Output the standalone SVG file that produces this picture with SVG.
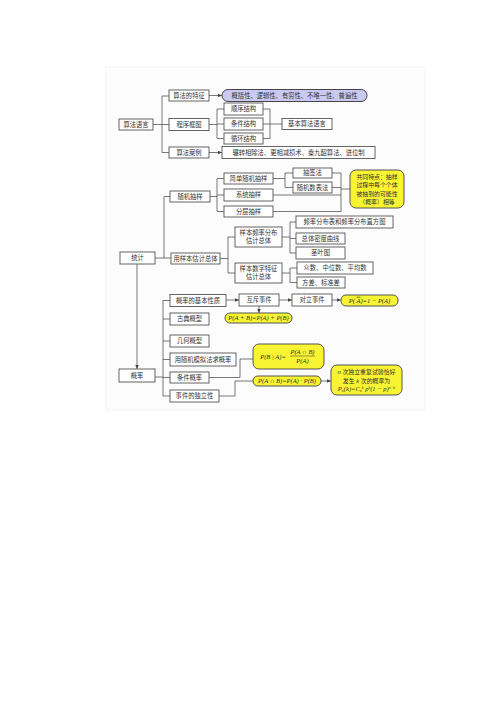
<svg xmlns="http://www.w3.org/2000/svg" width="500" height="707" viewBox="0 0 500 707">
<style>
.b{fill:#fff;stroke:#555;stroke-width:0.9}
.y{fill:#f9f431;stroke:#555;stroke-width:1}
.p{fill:#c9c9f2;stroke:#444;stroke-width:1}
.t{font-family:"Liberation Sans","Noto Sans CJK SC",sans-serif;font-size:6.3px;fill:#333;text-anchor:middle}
.s{font-size:5.9px}
.f{font-family:"Liberation Serif","Noto Sans CJK SC",serif;font-size:6.5px;fill:#333;text-anchor:middle;font-style:italic}
.c{fill:none;stroke:#555;stroke-width:0.8}
</style>
<defs>
<marker id="ar" markerWidth="5" markerHeight="5" refX="4.5" refY="2.5" orient="auto" markerUnits="userSpaceOnUse">
<path d="M0,0.5 L4.5,2.5 L0,4.5 Z" fill="#444"/>
</marker>
</defs>
<rect x="106" y="67" width="319" height="343" fill="#fcfcfc" stroke="#f4f4f4" stroke-width="1"/>
<g id="connectors">
<path class="c" d="M153,124.5H162M162,96V152.5M162,96H169M162,124.5H169M162,152.5H169"/>
<path class="c" d="M209,95.5H222" marker-end="url(#ar)"/>
<path class="c" d="M209,152.5H222" marker-end="url(#ar)"/>
<path class="c" d="M209,124.5H217M217,109V138.5M217,109H224M217,124H224M217,138.5H224"/>
<path class="c" d="M263,109H270M263,124H270M263,138.5H270M270,109V138.5M270,124H282"/>
<path class="c" d="M155,258H164M164,196.5V258M164,196.5H170M164,258H171"/>
<path class="c" d="M210,196.5H217M217,178.5V211.5M217,178.5H224M217,195H224M217,211.5H224"/>
<path class="c" d="M273,178.5H285M285,173V187.5M285,173H293M285,187.5H293"/>
<path class="c" d="M332,173H341M332,187.5H341M273,195H341M273,211.5H341M341,173V211.5M341,189H350"/>
<path class="c" d="M220,258.5H228M228,237V273M228,237H235M228,273H235"/>
<path class="c" d="M282,237H290M290,222V253M290,222H296M290,238.5H296M290,253H296"/>
<path class="c" d="M282,273H290M290,268V282.5M290,268H297M290,282.5H297"/>
<path class="c" d="M137,264V369" marker-end="url(#ar)"/>
<path class="c" d="M155,377H163M163,300.5V396M163,300.5H170M163,319H170M163,341H170M163,359.5H170M163,377.5H170M163,396H170"/>
<path class="c" d="M226,300H239" marker-end="url(#ar)"/>
<path class="c" d="M279,300H292" marker-end="url(#ar)"/>
<path class="c" d="M332,300H341" marker-end="url(#ar)"/>
<path class="c" d="M259,306V313" marker-end="url(#ar)"/>
<path class="c" d="M209,377.5H240V359H253"/>
<path class="c" d="M219,396H235V381H253"/>
<path class="c" d="M321,381H331" marker-end="url(#ar)"/>
</g>
<g id="n-suanfayuyan"><rect class="b" x="119" y="119" width="34" height="11"/><text class="t" x="136" y="126.8">算法语言</text></g>
<g id="n-tezheng"><rect class="b" x="169" y="90" width="40" height="11"/><text class="t" x="189" y="97.8">算法的特征</text></g>
<g id="n-kuangtu"><rect class="b" x="169" y="118.5" width="40" height="12"/><text class="t" x="189" y="126.8">程序框图</text></g>
<g id="n-anli"><rect class="b" x="169" y="147" width="40" height="11"/><text class="t" x="189" y="154.8">算法案例</text></g>
<g id="n-tezheng-list"><rect class="p" x="222" y="89.5" width="145" height="12" rx="6"/><text class="t" x="294.5" y="97.8">概括性、逻辑性、有穷性、不唯一性、普遍性</text></g>
<g id="n-shunxu"><rect class="b" x="224" y="103" width="39" height="12"/><text class="t" x="243.5" y="111.3">顺序结构</text></g>
<g id="n-tiaojian"><rect class="b" x="224" y="118" width="39" height="12"/><text class="t" x="243.5" y="126.3">条件结构</text></g>
<g id="n-xunhuan"><rect class="b" x="224" y="133" width="39" height="11"/><text class="t" x="243.5" y="140.8">循环结构</text></g>
<g id="n-jiben"><rect class="b" x="282" y="118.5" width="50" height="11"/><text class="t" x="307" y="126.3">基本算法语言</text></g>
<g id="n-anli-list"><rect class="b" x="222" y="146.5" width="153" height="12"/><text class="t" x="298.5" y="154.8">辗转相除法、更相减损术、秦九韶算法、进位制</text></g>
<g id="n-tongji"><rect class="b" x="120" y="252" width="35" height="12"/><text class="t" x="137.5" y="260.3">统计</text></g>
<g id="n-suiji"><rect class="b" x="170" y="191" width="40" height="11"/><text class="t" x="190" y="198.8">随机抽样</text></g>
<g id="n-guji"><rect class="b" x="171" y="253" width="49" height="11"/><text class="t" x="195.5" y="260.8">用样本估计总体</text></g>
<g id="n-jiandan"><rect class="b" x="224" y="173" width="49" height="11"/><text class="t" x="248.5" y="180.8">简单随机抽样</text></g>
<g id="n-xitong"><rect class="b" x="224" y="189" width="49" height="12"/><text class="t" x="248.5" y="197.3">系统抽样</text></g>
<g id="n-fenceng"><rect class="b" x="224" y="206" width="49" height="11"/><text class="t" x="248.5" y="213.8">分层抽样</text></g>
<g id="n-chouqian"><rect class="b" x="293" y="168" width="39" height="10"/><text class="t" x="312.5" y="175.3">抽签法</text></g>
<g id="n-suijishu"><rect class="b" x="293" y="182" width="39" height="11"/><text class="t" x="312.5" y="189.8">随机数表法</text></g>
<g id="n-gongtong"><rect class="y" x="350" y="170" width="54" height="38" rx="6"/>
<text class="t s" x="377" y="179">共同特点：抽样</text><text class="t s" x="377" y="187.3">过程中每个个体</text><text class="t s" x="377" y="195.6">被抽到的可能性</text><text class="t s" x="377" y="203.9">（概率）相等</text></g>
<g id="n-pinlv"><rect class="b" x="235" y="227" width="47" height="20"/><text class="t" x="258.5" y="235">样本频率分布</text><text class="t" x="258.5" y="243">估计总体</text></g>
<g id="n-shuzi"><rect class="b" x="235" y="263" width="47" height="20"/><text class="t" x="258.5" y="271">样本数字特征</text><text class="t" x="258.5" y="279">估计总体</text></g>
<g id="n-zhifang"><rect class="b" x="296" y="216" width="97" height="12"/><text class="t" x="344.5" y="224.3">频率分布表和频率分布直方图</text></g>
<g id="n-midu"><rect class="b" x="296" y="233" width="49" height="11"/><text class="t" x="320.5" y="240.8">总体密度曲线</text></g>
<g id="n-jingye"><rect class="b" x="296" y="247" width="49" height="12"/><text class="t" x="320.5" y="255.3">茎叶图</text></g>
<g id="n-zhongshu"><rect class="b" x="297" y="262" width="76" height="12"/><text class="t" x="335" y="270.3">众数、中位数、平均数</text></g>
<g id="n-fangcha"><rect class="b" x="297" y="277" width="48" height="11"/><text class="t" x="321" y="284.8">方差、标准差</text></g>
<g id="n-gailv"><rect class="b" x="119" y="369" width="36" height="13"/><text class="t" x="137" y="377.8">概率</text></g>
<g id="n-xingzhi"><rect class="b" x="170" y="294.5" width="56" height="12"/><text class="t" x="198" y="302.8">概率的基本性质</text></g>
<g id="n-gudian"><rect class="b" x="170" y="313" width="39" height="12"/><text class="t" x="189.5" y="321.3">古典概型</text></g>
<g id="n-jihe"><rect class="b" x="170" y="335" width="39" height="12"/><text class="t" x="189.5" y="343.3">几何概型</text></g>
<g id="n-moni"><rect class="b" x="170" y="353" width="66" height="13"/><text class="t" x="203" y="361.8">用随机模拟法求概率</text></g>
<g id="n-tiaojiangailv"><rect class="b" x="170" y="372" width="39" height="11"/><text class="t" x="189.5" y="379.8">条件概率</text></g>
<g id="n-duli"><rect class="b" x="170" y="390" width="49" height="12"/><text class="t" x="194.5" y="398.3">事件的独立性</text></g>
<g id="n-huchi"><rect class="b" x="239" y="294" width="40" height="12"/><text class="t" x="259" y="302.3">互斥事件</text></g>
<g id="n-duili"><rect class="b" x="292" y="294" width="40" height="12"/><text class="t" x="312" y="302.3">对立事件</text></g>
<g id="n-f-duili"><rect class="y" x="341" y="295" width="57" height="11" rx="5"/><text class="f" x="369.5" y="302.8">P( <tspan text-decoration="overline">A</tspan>)=1 − P(A)</text></g>
<g id="n-f-huchi"><rect class="y" x="225" y="313" width="67" height="10" rx="5"/><text class="f" x="258.5" y="320.3">P(A + B)=P(A) + P(B)</text></g>
<g id="n-f-tiaojian"><rect class="y" x="253" y="344" width="71" height="25" rx="6"/>
<text class="f" x="273" y="358.5">P(B | A)=</text>
<text class="f" x="302.5" y="354">P(A ∩ B)</text>
<line x1="290" y1="356" x2="315" y2="356" stroke="#333" stroke-width="0.5"/>
<text class="f" x="302.5" y="362.5">P(A)</text></g>
<g id="n-f-duli"><rect class="y" x="253" y="376" width="68" height="10" rx="5"/><text class="f" x="287" y="383.3">P(A ∩ B)=P(A) · P(B)</text></g>
<g id="n-f-chongfu"><rect class="y" x="331" y="365" width="71" height="30" rx="6"/>
<text class="t s" x="366.5" y="374"><tspan font-style="italic">n</tspan> 次独立重复试验恰好</text>
<text class="t s" x="366.5" y="382.5">发生 <tspan font-style="italic">k</tspan> 次的概率为</text>
<text class="f" x="366.5" y="391"><tspan>P</tspan><tspan font-size="4" dy="1">n</tspan><tspan dy="-1">(k)=C</tspan><tspan font-size="4" dy="1">n</tspan><tspan font-size="4" dy="-3">k</tspan><tspan dy="2"> p</tspan><tspan font-size="4" dy="-2">k</tspan><tspan dy="2">(1 − p)</tspan><tspan font-size="4" dy="-2">n−k</tspan></text></g>
</svg>
